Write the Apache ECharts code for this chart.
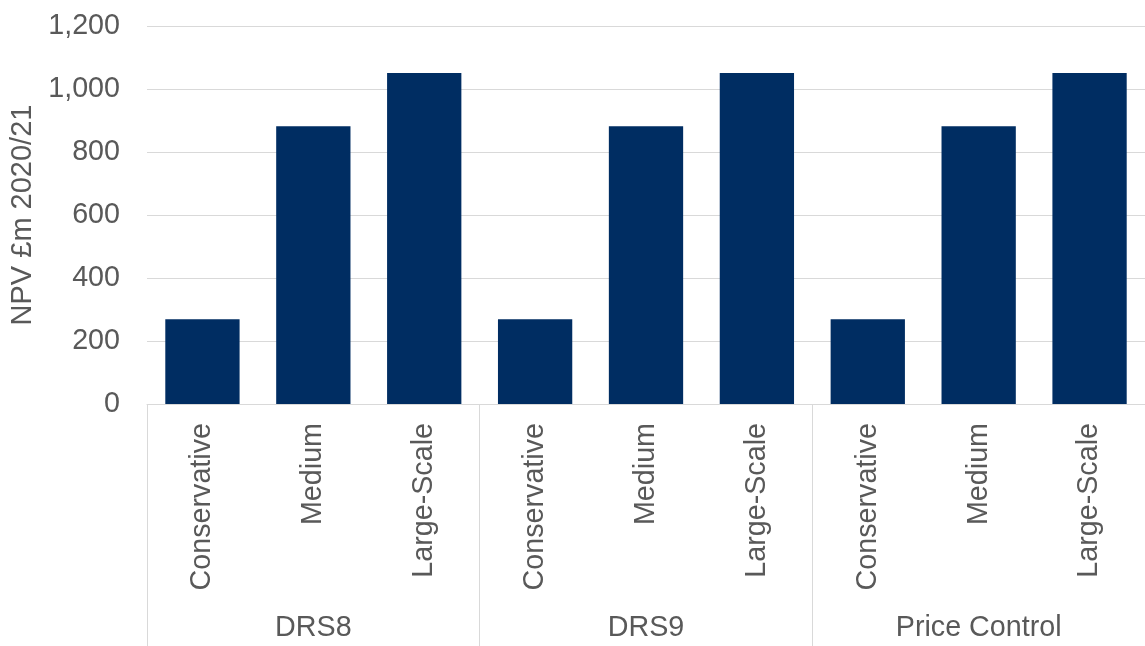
<!DOCTYPE html>
<html>
<head>
<meta charset="utf-8">
<script src="https://cdn.jsdelivr.net/npm/echarts@6/dist/echarts.min.js"></script>
<style>
html,body{margin:0;padding:0;background:#fff;}
#chart{width:1145px;height:646px;}
</style>
</head>
<body>
<div id="chart"></div>
<script>
const groups = ['DRS8', 'DRS9', 'Price Control'];
const scenarios = ['Conservative', 'Medium', 'Large-Scale'];
const drs8 = [269, 882, 1051];
const drs9 = [269, 882, 1051];
const priceControl = [269, 882, 1051];
const yTicks = { min: 0, max: 1200, interval: 200 };
const yAxisName = 'NPV £m 2020/21';

const categories = [];
groups.forEach(() => scenarios.forEach(s => categories.push(s)));
const values = [].concat(drs8, drs9, priceControl);

const FONT = '"Liberation Sans", Arial, sans-serif';
const TXT = '#595959';
const GRID = '#d9d9d9';
const FS = 28.7;

const chart = echarts.init(document.getElementById('chart'), null, { renderer: 'canvas' });
chart.setOption({
  animation: false,
  backgroundColor: '#ffffff',
  grid: { left: 147, top: 26, width: 1003, height: 378, containLabel: false },
  xAxis: [
    {
      type: 'category',
      data: categories,
      position: 'bottom',
      axisLine: { show: true, lineStyle: { color: GRID, width: 1 } },
      axisTick: { show: false },
      axisLabel: { rotate: 90, fontSize: FS, color: TXT, fontFamily: FONT, margin: 19, interval: 0 }
    },
    {
      type: 'category',
      data: groups,
      position: 'bottom',
      axisLine: { show: false },
      axisTick: { show: true, length: 242, lineStyle: { color: GRID, width: 1 } },
      axisLabel: { fontSize: FS, color: TXT, fontFamily: FONT, margin: 210, interval: 0 },
      splitLine: { show: false }
    }
  ],
  yAxis: {
    type: 'value',
    min: yTicks.min,
    max: yTicks.max,
    interval: yTicks.interval,
    name: yAxisName,
    nameLocation: 'middle',
    nameRotate: 90,
    nameGap: 106,
    nameTextStyle: { fontSize: 29, color: TXT, fontFamily: FONT },
    axisLine: { show: false },
    axisTick: { show: false },
    axisLabel: {
      fontSize: FS, color: TXT, fontFamily: FONT, margin: 27,
      formatter: v => v.toLocaleString('en-GB')
    },
    splitLine: { show: true, lineStyle: { color: GRID, width: 1 } }
  },
  series: [{
    type: 'bar',
    xAxisIndex: 0,
    data: values,
    barWidth: '67%',
    itemStyle: { color: '#002D62' }
  }]
});
</script>
</body>
</html>
